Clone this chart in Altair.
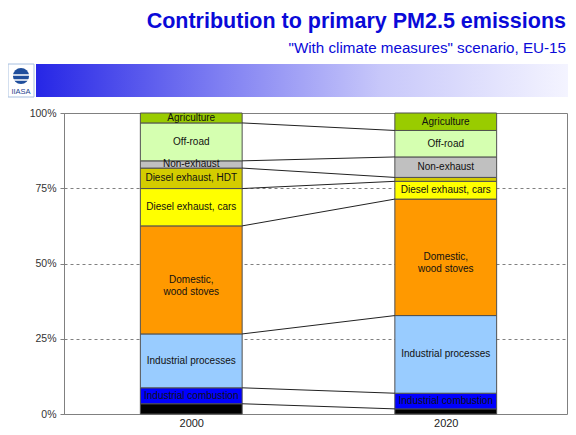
import altair as alt
import pandas as pd

years = ["2000", "2020"]
sectors = ["Other", "Industrial combustion", "Industrial processes",
           "Domestic, wood stoves", "Diesel exhaust, cars", "Diesel exhaust, HDT",
           "Non-exhaust", "Off-road", "Agriculture"]
share_2000 = [3.4, 5.3, 17.9, 35.9, 12.4, 6.8, 2.4, 12.6, 3.3]
share_2020 = [1.7, 5.2, 25.8, 38.7, 5.9, 1.3, 6.8, 8.8, 5.8]
label_2000 = ["", "Industrial combustion", "Industrial processes", "Domestic,\nwood stoves",
              "Diesel exhaust, cars", "Diesel exhaust, HDT", "Non-exhaust", "Off-road", "Agriculture"]
label_2020 = ["", "Industrial combustion", "Industrial processes", "Domestic,\nwood stoves",
              "Diesel exhaust, cars", "", "Non-exhaust", "Off-road", "Agriculture"]
colors = ["#000000", "#0000FF", "#99CCFF", "#FF9900", "#FFFF00", "#D4CC00",
          "#C0C0C0", "#D5FFB0", "#99CC00"]

title = "Contribution to primary PM2.5 emissions"
subtitle = "\"With climate measures\" scenario, EU-15"

half = 0.2
rows = []
ends = []
for i, (yr, vals, labs) in enumerate(zip(years, [share_2000, share_2020], [label_2000, label_2020])):
    pos = i + 0.5
    cum = 0.0
    e = []
    for s, v, l in zip(sectors, vals, labs):
        rows.append({"year": yr, "sector": s, "x0": pos - half, "x1": pos + half, "xc": pos,
                     "y0": cum, "y1": cum + v, "ym": cum + v / 2, "label": l})
        cum += v
        e.append(cum)
    ends.append(e)
df = pd.DataFrame(rows)

links = pd.DataFrame({
    "xa": [0.5 + half] * (len(sectors) - 1),
    "xb": [1.5 - half] * (len(sectors) - 1),
    "ya": ends[0][:-1],
    "yb": ends[1][:-1],
})

W = 503
xscale = alt.Scale(domain=[0, 2 * W / 509], nice=False, zero=False)
yscale = alt.Scale(domain=[0, 100], nice=False)

bars = alt.Chart(df).mark_rect(stroke="#505050", strokeWidth=1).encode(
    x=alt.X("x0:Q", scale=xscale, title=None,
            axis=alt.Axis(values=[0.5, 1.5],
                          labelExpr=f"datum.value < 1 ? '{years[0]}' : '{years[1]}'",
                          ticks=False, domain=False, grid=False, labelPadding=3,
                          labelFontSize=11, labelColor="#222", labelFont="Liberation Sans")),
    x2="x1:Q",
    y=alt.Y("y0:Q", scale=yscale, title=None,
            axis=alt.Axis(values=[0, 25, 50, 75, 100], labelExpr="datum.value + '%'",
                          grid=True, gridDash=[3, 3], gridColor="#808080", tickSize=4,
                          tickColor="#808080", domainColor="#808080", labelPadding=4,
                          labelFontSize=10.5, labelColor="#333", labelFont="Liberation Sans")),
    y2="y1:Q",
    color=alt.Color("sector:N", scale=alt.Scale(domain=sectors, range=colors), legend=None),
)

labels = alt.Chart(df).transform_filter("datum.label != ''").mark_text(
    fontSize=10, font="Liberation Sans", color="#111", lineBreak="\n", baseline="middle",
    lineHeight=12
).encode(
    x=alt.X("xc:Q", scale=xscale, title=None),
    y=alt.Y("ym:Q", scale=yscale, title=None),
    text="label:N",
)

rules = alt.Chart(links).mark_rule(color="#222", strokeWidth=1).encode(
    x=alt.X("xa:Q", scale=xscale, title=None),
    x2="xb:Q",
    y=alt.Y("ya:Q", scale=yscale, title=None),
    y2="yb:Q",
)

one = alt.Data(values=[{"a": 1}])

band = alt.Chart(one).mark_rect(
    fill=alt.Gradient(gradient="linear", x1=0, x2=1, y1=0, y2=0,
                      stops=[alt.GradientStop(color="#2626E6", offset=0),
                             alt.GradientStop(color="#8080F2", offset=0.35),
                             alt.GradientStop(color="#C8C8FA", offset=0.65),
                             alt.GradientStop(color="#F4F4FF", offset=1)])
).encode(x=alt.value(-28), x2=alt.value(W + 1), y=alt.value(-49), y2=alt.value(-16))

logo_box = alt.Chart(one).mark_rect(fill="white", stroke="#A8C0E0", strokeWidth=1).encode(
    x=alt.value(-56), x2=alt.value(-30), y=alt.value(-49), y2=alt.value(-16))
logo_globe = alt.Chart(one).mark_circle(size=260, color="#1F4E9C", opacity=1).encode(
    x=alt.value(-43), y=alt.value(-37))
logo_stripe1 = alt.Chart(one).mark_rule(color="white", strokeWidth=1.5).encode(
    x=alt.value(-53), x2=alt.value(-33), y=alt.value(-38))
logo_stripe2 = alt.Chart(one).mark_rule(color="white", strokeWidth=1.5).encode(
    x=alt.value(-53), x2=alt.value(-33), y=alt.value(-33))
logo_text = alt.Chart(one).mark_text(text="IIASA", fontSize=7.5, color="#1F3F8F",
                                     font="Liberation Sans", baseline="alphabetic").encode(
    x=alt.value(-43), y=alt.value(-19))

title_t = alt.Chart(one).mark_text(text=title, align="right", baseline="alphabetic",
                                   fontSize=21.5, fontWeight="bold", color="#0A0AD8",
                                   font="Liberation Sans").encode(
    x=alt.value(502), y=alt.value(-85))
subtitle_t = alt.Chart(one).mark_text(text=subtitle, align="right", baseline="alphabetic",
                                      fontSize=15.2, color="#0A0AD8",
                                      font="Liberation Sans").encode(
    x=alt.value(502), y=alt.value(-60))

chart = alt.layer(
    bars, rules, labels, band, logo_box, logo_globe, logo_stripe1, logo_stripe2,
    logo_text, title_t, subtitle_t
).properties(
    width=W, height=301,
    autosize=alt.AutoSizeParams(type="none"),
    padding={"left": 56, "top": 105, "right": 1, "bottom": 13},
    background="white",
).configure_view(stroke="#808080", strokeWidth=1)

chart.save("out.html", embed_options={"renderer": "svg", "actions": False})
